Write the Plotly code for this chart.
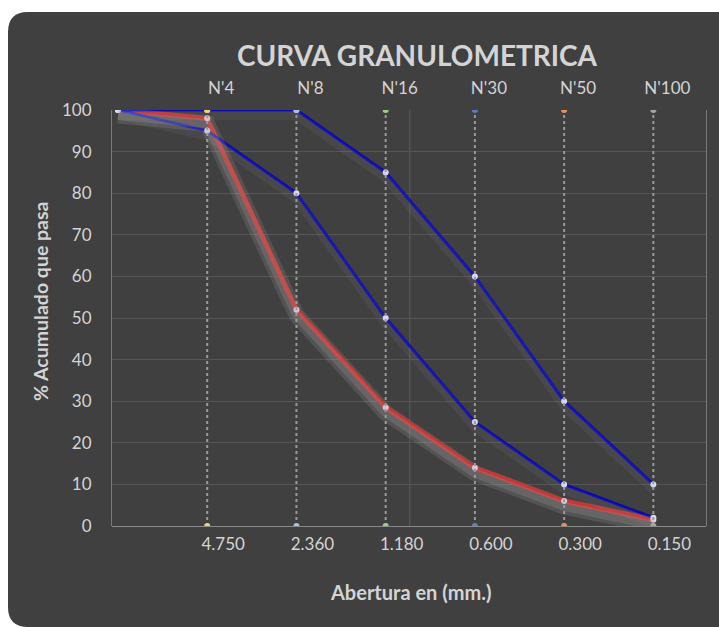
import plotly.graph_objects as go

# ---- data ----
posicion = [0, 1, 2, 3, 4, 5, 6]
abertura = ["", "4.750", "2.360", "1.180", "0.600", "0.300", "0.150"]
tamiz = ["", "N'4", "N'8", "N'16", "N'30", "N'50", "N'100"]
limite_superior = [100, 100, 100, 85, 60, 30, 10]
limite_inferior = [100, 95, 80, 50, 25, 10, 2]
muestra = [100, 98, 52, 28.5, 14, 6, 1.5]
guia_y = [0, 100]
tamiz_colores = ["#f2d36b", "#a9bfe6", "#9fcf7f", "#5b7fc4", "#ee8f55", "#a6a6a6"]

FONT = "Lato, Roboto, sans-serif"
TXT = "#d4d4d4"
PANEL = "#404040"

fig = go.Figure()

# sieve guide lines (dotted) with colored end dots
for i in range(1, len(posicion)):
    fig.add_trace(go.Scatter(
        x=[posicion[i], posicion[i]], y=guia_y, xaxis="x2", yaxis="y",
        mode="lines+markers",
        line=dict(color="#9a9a9a", width=2, dash="dot"),
        marker=dict(color=tamiz_colores[i - 1], size=6),
        showlegend=False, hoverinfo="skip"))

# soft shadows (drawn on a shifted overlay axis)
for serie, col, w in [(limite_superior, "rgba(150,150,170,0.10)", 9),
                      (limite_inferior, "rgba(150,150,170,0.10)", 9),
                      (muestra, "rgba(170,170,170,0.18)", 16),
                      (muestra, "rgba(170,170,170,0.22)", 9)]:
    fig.add_trace(go.Scatter(x=posicion, y=serie, xaxis="x", yaxis="y3",
                             mode="lines", line=dict(color=col, width=w),
                             showlegend=False, hoverinfo="skip"))

fig.add_trace(go.Scatter(x=posicion, y=muestra, mode="lines+markers",
                         line=dict(color="#c8201e", width=5),
                         marker=dict(color="#e6d2e6", size=6),
                         name="Muestra", showlegend=False))
fig.add_trace(go.Scatter(x=posicion, y=limite_inferior, mode="lines+markers",
                         line=dict(color="#0a0ab4", width=3),
                         marker=dict(color="#dcdcf5", size=6),
                         name="Límite inferior", showlegend=False))
fig.add_trace(go.Scatter(x=posicion, y=limite_superior, mode="lines+markers",
                         line=dict(color="#0a0ab4", width=3),
                         marker=dict(color="#dcdcf5", size=6),
                         name="Límite superior", showlegend=False))

XR = [-0.067, 6.59]
W, H = 719, 627
ml, mr, mt, mb = 112, 13, 110, 101
pw, ph = W - ml - mr, H - mt - mb

def px(xp):
    return (xp - ml) / pw

def py(yp):
    return (H - mb - yp) / ph

x0, x1 = px(8), px(760)
yt, yb = py(12), py(627)
rx, ry = 20 / pw, 20 / ph
panel_path = (f"M {x0+rx},{yt} L {x1},{yt} L {x1},{yb} L {x0+rx},{yb} "
              f"Q {x0},{yb} {x0},{yb+ry} L {x0},{yt-ry} Q {x0},{yt} {x0+rx},{yt} Z")

def ann(text, xp, yp, size, **kw):
    return dict(text=text, xref="paper", yref="paper", x=px(xp), y=py(yp),
                xanchor="center", yanchor="middle", showarrow=False,
                font=dict(size=size, color="#d4d4d4", family=FONT), **kw)

fig.update_layout(
    width=W, height=H,
    margin=dict(l=ml, r=mr, t=mt, b=mb),
    paper_bgcolor="white", plot_bgcolor="rgba(0,0,0,0)",
    font=dict(family=FONT, color=TXT, size=16),
    shapes=[
        dict(type="path", path=panel_path, xref="paper", yref="paper",
             fillcolor=PANEL, line=dict(width=0), layer="below"),
        dict(type="line", xref="x", yref="y", x0=3.27, x1=3.27, y0=0, y1=100,
             line=dict(color="#5c5c5c", width=1), layer="below"),
    ],
    xaxis=dict(range=XR, tickvals=posicion[1:], ticktext=abertura[1:],
               showgrid=False, zeroline=False, showline=False,
               ticks="", ticklabelshift=16, ticklabelstandoff=6,
               tickfont=dict(size=17, color=TXT, family=FONT)),
    xaxis2=dict(range=XR, overlaying="x", side="top", anchor="y",
                tickvals=posicion[1:], ticktext=tamiz[1:],
                showgrid=False, zeroline=False, showline=False,
                ticks="", ticklabelshift=14, ticklabelstandoff=12,
                tickfont=dict(size=17, color=TXT, family=FONT)),
    yaxis=dict(range=[0, 100], dtick=10, showgrid=True, gridcolor="#555555",
               gridwidth=1, zeroline=True, zerolinecolor="#8a8a8a",
               zerolinewidth=1, showline=True, linecolor="#7a7a7a",
               linewidth=1, mirror=True, ticks="", ticklabelstandoff=16,
               tickfont=dict(size=17, color=TXT, family=FONT)),
    yaxis3=dict(range=[1.3, 101.3], overlaying="y", visible=False),
    annotations=[
        ann("<b>CURVA GRANULOMETRICA</b>", 417, 55, 28),
        ann("<b>% Acumulado que pasa</b>", 40, 302, 19.5, textangle=-90),
        ann("<b>Abertura en (mm.)</b>", 410, 592, 20),
    ],
)

fig.write_html("out.html",
               config={"displayModeBar": False},
               post_script="document.body.style.margin='0';"
                           "document.body.style.overflow='hidden';")
